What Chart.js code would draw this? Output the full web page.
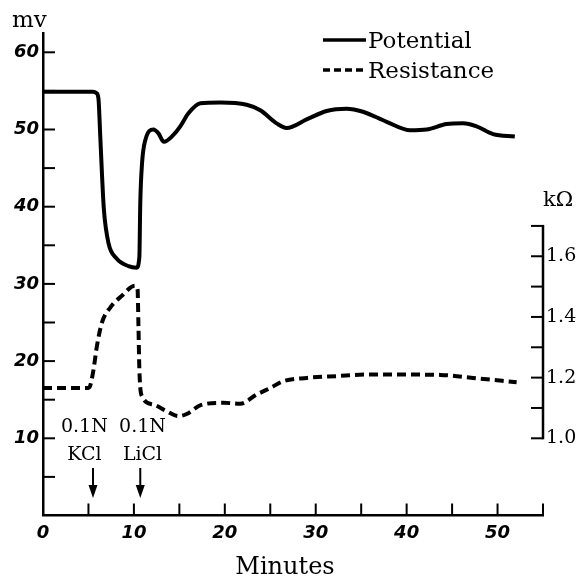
<!DOCTYPE html>
<html>
<head>
<meta charset="utf-8">
<script src="https://cdn.jsdelivr.net/npm/chart.js@4"></script>
<style>
  html, body { margin: 0; padding: 0; background: #fff; }
  canvas { display: block; }
</style>
</head>
<body>
<canvas id="c" width="581" height="579"></canvas>
<script>
// ---- data ----
const potentialMinutes = [0, 5.5, 5.9, 6.1, 6.3, 6.5, 6.7, 7.2, 8.1, 9.4, 10.3, 10.6, 10.7, 10.9, 11.25, 12.15, 12.7, 13.3, 14.35, 15.1, 16.0, 17.3, 19.5, 22.4, 23.9, 25.7, 26.8, 29.0, 31.2, 33.4, 35.2, 37.8, 40.4, 42.2, 44.4, 46.2, 47.7, 49.5, 51.9];
const potentialMv = [54.9, 54.9, 54.7, 54.0, 49.1, 43.9, 39.6, 35.3, 33.3, 32.3, 32.1, 33.5, 40.5, 45.7, 48.6, 50.0, 49.5, 48.4, 49.3, 50.4, 52.1, 53.4, 53.5, 53.2, 52.5, 50.8, 50.2, 51.3, 52.4, 52.7, 52.3, 51.0, 49.9, 50.0, 50.7, 50.8, 50.4, 49.4, 49.1];

const resistanceMinutes = [0, 5.0, 5.2, 5.56, 5.93, 6.48, 7.4, 8.68, 10.1, 10.4, 10.5, 10.6, 10.9, 12.15, 13.6, 14.9, 15.8, 17.4, 19.85, 21.7, 23.5, 25.0, 26.4, 29.0, 32.3, 35.6, 40.0, 43.7, 47.3, 52.1];
const resistanceKohm = [1.166, 1.166, 1.174, 1.227, 1.304, 1.381, 1.431, 1.470, 1.503, 1.492, 1.370, 1.227, 1.138, 1.111, 1.089, 1.073, 1.080, 1.110, 1.117, 1.114, 1.144, 1.166, 1.188, 1.199, 1.205, 1.210, 1.210, 1.209, 1.199, 1.185];

const xTickLabels = [0, 10, 20, 30, 40, 50];
const xTickMarks = [5, 10, 15, 20, 25, 30, 35, 40, 45, 50, 55];
const yTickLabels = [10, 20, 30, 40, 50, 60];
const yTickMarks = [5, 10, 15, 20, 25, 30, 35, 40, 45, 50, 55, 60];
const rTickLabels = [1.0, 1.2, 1.4, 1.6];
const rTickMarks = [1.0, 1.1, 1.2, 1.3, 1.4, 1.5, 1.6, 1.7];

const seriesNames = ['Potential', 'Resistance'];
const leftUnit = 'mv';
const rightUnit = 'kΩ';
const xTitle = 'Minutes';
const annotLines1 = ['0.1N', '0.1N'];
const annotLines2 = ['KCl', 'LiCl'];
const annotArrowAt = [5.5, 10.7];
const annotTextAt = [4.55, 10.95];

// ---- chart ----
const toPts = (xs, ys) => xs.map((x, i) => ({ x: x, y: ys[i] }));
const TXT = '"DejaVu Serif", serif';
const TICK = 12;

function seg(ctx, x1, y1, x2, y2) {
  ctx.beginPath(); ctx.moveTo(x1, y1); ctx.lineTo(x2, y2); ctx.stroke();
}

const deco = {
  id: 'deco',
  afterDraw(chart) {
    const { ctx, chartArea: ca, scales } = chart;
    const rs = scales.yRight;
    ctx.save();
    ctx.strokeStyle = '#000';
    ctx.fillStyle = '#000';
    ctx.lineWidth = 2;
    ctx.lineCap = 'butt';
    // inward tick marks
    xTickMarks.forEach(v => { const p = scales.x.getPixelForValue(v); seg(ctx, p, ca.bottom, p, ca.bottom - TICK); });
    yTickMarks.forEach(v => { const p = scales.y.getPixelForValue(v); seg(ctx, ca.left, p, ca.left + TICK, p); });
    rTickMarks.forEach(v => { const p = rs.getPixelForValue(v); seg(ctx, ca.right, p, ca.right - TICK, p); });
    // partial right axis line
    ctx.lineWidth = 2.5;
    seg(ctx, ca.right, rs.getPixelForValue(rTickMarks[0]) + 1, ca.right, rs.getPixelForValue(rTickMarks[rTickMarks.length - 1]) - 1);

    // unit labels
    ctx.textBaseline = 'alphabetic';
    ctx.textAlign = 'left';
    ctx.font = '23px ' + TXT;
    ctx.fillText(leftUnit, 12, 27);
    ctx.font = '21px ' + TXT;
    ctx.fillText(rightUnit, 543, 206);
    // x title
    ctx.textAlign = 'center';
    ctx.font = '24px ' + TXT;
    ctx.fillText(xTitle, 285, 574);

    // legend
    const ds = chart.data.datasets;
    const legY = [40, 70];
    ctx.textAlign = 'left';
    ctx.font = '23px ' + TXT;
    ds.forEach((d, i) => {
      ctx.save();
      ctx.lineWidth = 3.5;
      ctx.setLineDash(d.borderDash ? [7, 4] : []);
      seg(ctx, 323, legY[i], 366, legY[i]);
      ctx.restore();
      ctx.fillText(d.label, 368, legY[i] + 8);
    });

    // annotations with arrows
    ctx.font = '19px ' + TXT;
    ctx.textAlign = 'center';
    annotArrowAt.forEach((m, i) => {
      const tx = scales.x.getPixelForValue(annotTextAt[i]);
      ctx.fillText(annotLines1[i], tx, 432);
      ctx.fillText(annotLines2[i], tx, 460);
      const ax = scales.x.getPixelForValue(m);
      ctx.lineWidth = 2;
      seg(ctx, ax, 468, ax, 490);
      ctx.beginPath();
      ctx.moveTo(ax - 4.5, 485);
      ctx.lineTo(ax + 4.5, 485);
      ctx.lineTo(ax, 498);
      ctx.closePath();
      ctx.fill();
    });
    ctx.restore();
  }
};

new Chart(document.getElementById('c'), {
  type: 'line',
  data: {
    datasets: [
      {
        label: seriesNames[0],
        data: toPts(potentialMinutes, potentialMv),
        yAxisID: 'y',
        borderColor: '#000',
        borderWidth: 4,
        pointRadius: 0,
        cubicInterpolationMode: 'monotone',
        fill: false
      },
      {
        label: seriesNames[1],
        data: toPts(resistanceMinutes, resistanceKohm),
        yAxisID: 'yRight',
        borderColor: '#000',
        borderWidth: 4,
        borderDash: [9, 5],
        pointRadius: 0,
        cubicInterpolationMode: 'monotone',
        fill: false
      }
    ]
  },
  options: {
    responsive: false,
    animation: false,
    devicePixelRatio: 1,
    layout: { padding: { top: 33, left: 0, right: 0, bottom: 0 } },
    plugins: { legend: { display: false }, tooltip: { enabled: false }, title: { display: false } },
    scales: {
      x: {
        type: 'linear', axis: 'x', position: 'bottom',
        min: 0, max: 55,
        grid: { display: false, drawTicks: false },
        border: { display: true, color: '#000', width: 2.5 },
        afterBuildTicks: s => { s.ticks = xTickLabels.map(v => ({ value: v })); },
        afterFit: s => { s.height = 63.5; },
        ticks: {
          autoSkip: false, maxRotation: 0, padding: 7, color: '#000',
          font: { family: '"DejaVu Sans", sans-serif', style: 'italic', weight: 'bold', size: 18 }
        }
      },
      y: {
        type: 'linear', axis: 'y', position: 'left',
        min: 0, max: 62.5,
        grid: { display: false, drawTicks: false },
        border: { display: true, color: '#000', width: 2.5 },
        afterBuildTicks: s => { s.ticks = yTickLabels.map(v => ({ value: v })); },
        afterFit: s => { s.width = 43; },
        ticks: {
          autoSkip: false, padding: 4, color: '#000',
          font: { family: '"DejaVu Sans", sans-serif', style: 'italic', weight: 'bold', size: 18 }
        }
      },
      yRight: {
        type: 'linear', axis: 'y', position: 'right',
        min: 1.0 - 10 / 39.3, max: 1.0 + 52.5 / 39.3,
        grid: { display: false, drawTicks: false },
        border: { display: false },
        afterBuildTicks: s => { s.ticks = rTickLabels.map(v => ({ value: v })); },
        afterFit: s => { s.width = 38; },
        ticks: {
          autoSkip: false, padding: 3, color: '#000',
          callback: v => Number(v).toFixed(1),
          font: { family: TXT, size: 19 }
        }
      }
    }
  },
  plugins: [deco]
});
</script>
</body>
</html>
